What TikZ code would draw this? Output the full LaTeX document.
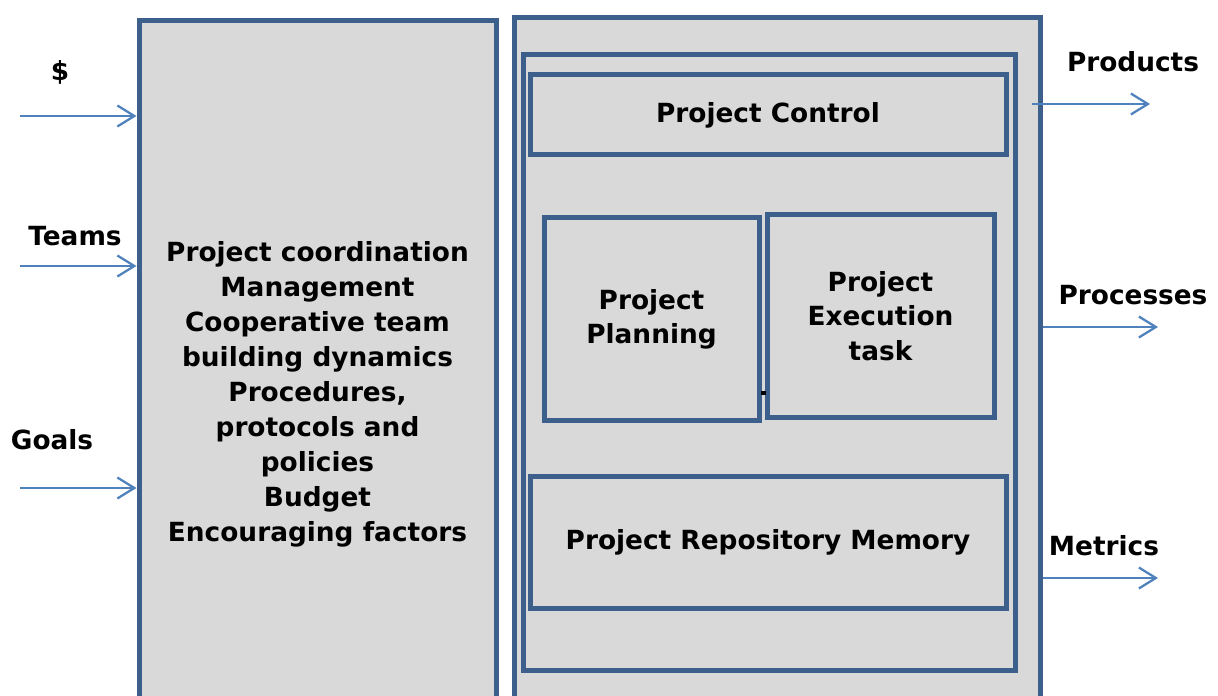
\documentclass[tikz,border=0pt]{standalone}
\usepackage{fontspec}
\setmainfont{DejaVu Sans}
\usetikzlibrary{positioning,arrows.meta}
\definecolor{boxline}{HTML}{3C5F8C}
\definecolor{boxfill}{HTML}{D9D9D9}
\definecolor{flowblue}{HTML}{4F81BD}

\begin{document}
\begin{tikzpicture}[
  panel/.style = {draw=boxline, fill=boxfill, line width=1mm, inner sep=0pt},
  block/.style = {panel, align=center, font=\bfseries\fontsize{15}{19.5}\selectfont},
  flow/.style = {-{Straight Barb[length=3.4mm, width=4.2mm]}, draw=flowblue, line width=.45mm},
  flow_lab/.style = {font=\bfseries\fontsize{15}{18}\selectfont}
  ]

  \useasboundingbox (0,0) rectangle (24.36,-13.92);
  \clip (0,0) rectangle (24.36,-13.92);

  \node[block, minimum width=7.14cm, minimum height=14.04cm, anchor=north] (coord) at (6.35,-0.36) {};
  \node[block, draw=none, fill=none, font=\bfseries\fontsize{15}{19.9}\selectfont] (coord_text) at (6.35,-7.88) {Project coordination\\Management\\Cooperative team\\building dynamics\\Procedures,\\protocols and\\policies\\Budget\\Encouraging factors};

  \node[panel, minimum width=10.52cm, minimum height=14.1cm, anchor=north] (outer) at (15.54,-0.3) {};
  \node[panel, minimum width=9.84cm, minimum height=12.3cm] (inner) at (15.38,-7.25) {};

  \node[block, minimum width=9.52cm, minimum height=1.6cm] (control) at (15.36,-2.3) {Project Control};
  \node[block, minimum width=4.3cm, minimum height=4.04cm] (planning) at (13.03,-6.38) {Project\\Planning};
  \node[block, minimum width=4.54cm, minimum height=4.04cm] (execution) at (17.61,-6.32) {Project\\Execution\\task};
  \node[block, minimum width=9.52cm, minimum height=2.64cm] (repository) at (15.36,-10.84) {Project Repository Memory};
  \fill (15.22,-7.9) rectangle ++(0.1,0.08);

  % inputs
  \node[flow_lab] (money) at (1.2,-1.44) {\$};
  \coordinate (money_in) at (0.4,-2.32);
  \draw[flow] (money_in) -- (money_in -| coord.west);
  \node[flow_lab] (teams) at (1.5,-4.72) {Teams};
  \coordinate (teams_in) at (0.4,-5.32);
  \draw[flow] (teams_in) -- (teams_in -| coord.west);
  \node[flow_lab] (goals) at (1.04,-8.8) {Goals};
  \coordinate (goals_in) at (0.4,-9.76);
  \draw[flow] (goals_in) -- (goals_in -| coord.west);

  % outputs
  \node[flow_lab] (products) at (22.66,-1.24) {Products};
  \coordinate (products_out) at (23.0,-2.08);
  \coordinate (products_from) at (20.64,-2.08);
  \draw[flow] (products_from) -- (products_out);
  \node[flow_lab] (processes) at (22.66,-5.9) {Processes};
  \coordinate (processes_out) at (23.16,-6.54);
  \draw[flow] (processes_out -| outer.east) -- (processes_out);
  \node[flow_lab] (metrics) at (22.08,-10.92) {Metrics};
  \coordinate (metrics_out) at (23.16,-11.56);
  \draw[flow] (metrics_out -| outer.east) -- (metrics_out);

\end{tikzpicture}
\end{document}
